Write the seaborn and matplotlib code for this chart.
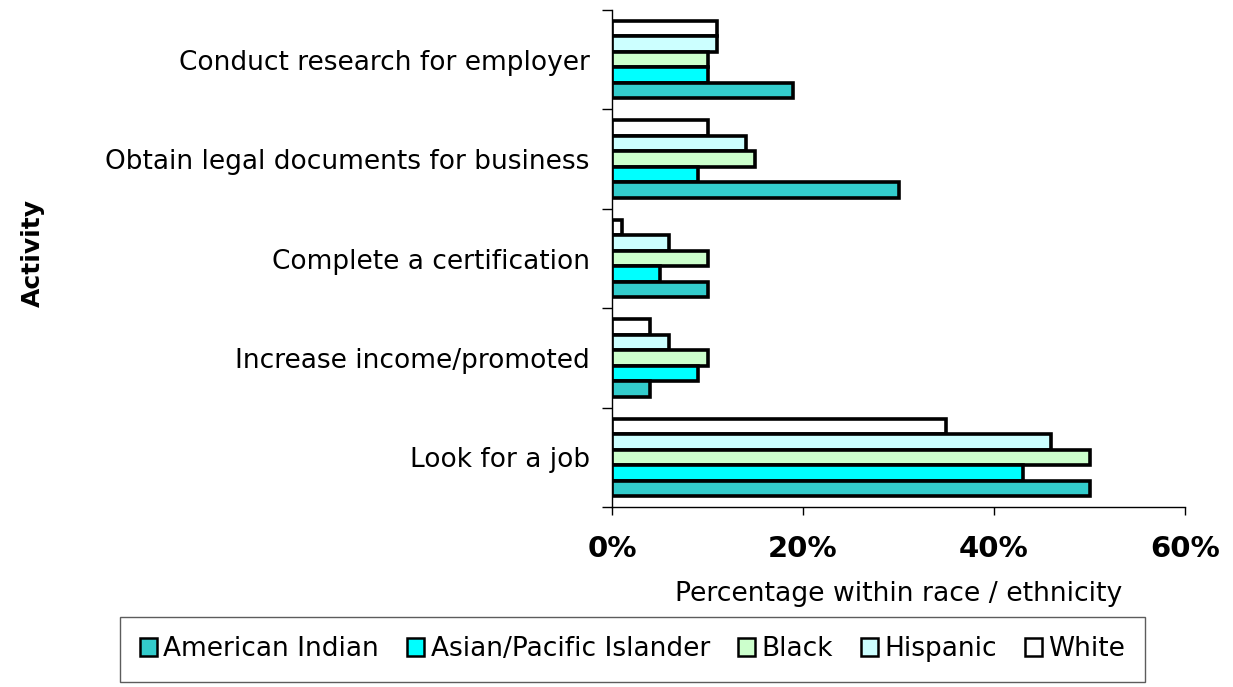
import matplotlib
matplotlib.use("Agg")
import matplotlib.pyplot as plt
from matplotlib.patches import Patch
from matplotlib.ticker import FixedLocator, FuncFormatter
import pandas as pd
import seaborn as sns

activities = [
    "Conduct research for employer",
    "Obtain legal documents for business",
    "Complete a certification",
    "Increase income/promoted",
    "Look for a job",
]
american_indian = [19, 30, 10, 4, 50]
asian_pacific = [10, 9, 5, 9, 43]
black = [10, 15, 10, 10, 50]
hispanic = [11, 14, 6, 6, 46]
white = [11, 10, 1, 4, 35]

groups = ["American Indian", "Asian/Pacific Islander", "Black", "Hispanic", "White"]
colors = ["#33CCCC", "#00FFFF", "#CCFFCC", "#CCFFFF", "#FFFFFF"]
x_ticks = [0, 20, 40, 60]

series = [american_indian, asian_pacific, black, hispanic, white]
rows = []
for g, vals in zip(groups, series):
    for a, v in zip(activities, vals):
        rows.append({"activity": a, "group": g, "pct": v})
df = pd.DataFrame(rows)

sns.set_theme(style="white")
plt.rcParams["font.family"] = ["DejaVu Sans"]
plt.rcParams["text.color"] = "black"
plt.rcParams["axes.labelcolor"] = "black"
plt.rcParams["xtick.color"] = "black"
plt.rcParams["ytick.color"] = "black"

fig = plt.figure(figsize=(12.33, 6.87), dpi=100)
ax = fig.add_axes([612 / 1233, 1 - 507 / 687, (1185 - 612) / 1233, (507 - 10) / 687])

# series drawn top-to-bottom within each group: White first, American Indian last
draw_order = groups[::-1]
palette = dict(zip(groups, colors))
sns.barplot(
    data=df, x="pct", y="activity", hue="group",
    order=activities, hue_order=draw_order, palette=palette,
    width=0.78, edgecolor="black", linewidth=2.6, saturation=1,
    errorbar=None, legend=False, ax=ax,
)

ax.set_xlim(0, 60)
ax.set_ylim(len(activities) - 0.5, -0.5)
ax.set_xticks(x_ticks)
ax.xaxis.set_major_formatter(FuncFormatter(lambda v, p: f"{v:.0f}%"))
for lbl in ax.get_xticklabels():
    lbl.set_fontweight("bold")
ax.tick_params(axis="x", labelsize=21, length=6, width=1, direction="out",
               bottom=True, pad=14, colors="black")

# boundary ticks between categories, labels at category centres
ax.yaxis.set_major_locator(FixedLocator([i - 0.5 for i in range(len(activities) + 1)]))
ax.yaxis.set_minor_locator(FixedLocator(list(range(len(activities)))))
ax.set_yticklabels([], minor=False)
ax.set_yticklabels(activities, minor=True)
ax.tick_params(axis="y", which="major", length=7, width=1, left=True, direction="out", colors="black")
ax.tick_params(axis="y", which="minor", length=0, labelsize=19, pad=16, left=False, colors="black")

for side in ["top", "right"]:
    ax.spines[side].set_visible(False)
for side in ["left", "bottom"]:
    ax.spines[side].set_color("black")
    ax.spines[side].set_linewidth(1)

ax.set_xlabel("Percentage within race / ethnicity", fontsize=19.2, labelpad=13, color="black")
ax.set_ylabel("")
fig.text(33 / 1233, 1 - 253 / 687, "Activity", rotation=90, fontsize=18,
         fontweight="bold", ha="center", va="center", color="black")

handles = [Patch(facecolor=c, edgecolor="black", linewidth=1.8) for c in colors]
leg = fig.legend(
    handles, groups, loc="center", bbox_to_anchor=(632.5 / 1233, 1 - 649.5 / 687),
    ncol=5, fontsize=19, frameon=True, fancybox=False, edgecolor="#333333",
    handlelength=0.65, handleheight=0.65, handletextpad=0.25, columnspacing=1.05,
    borderpad=0.75, borderaxespad=0,
)
leg.get_frame().set_linewidth(1)

fig.savefig("out.png", dpi=100, facecolor="white")
